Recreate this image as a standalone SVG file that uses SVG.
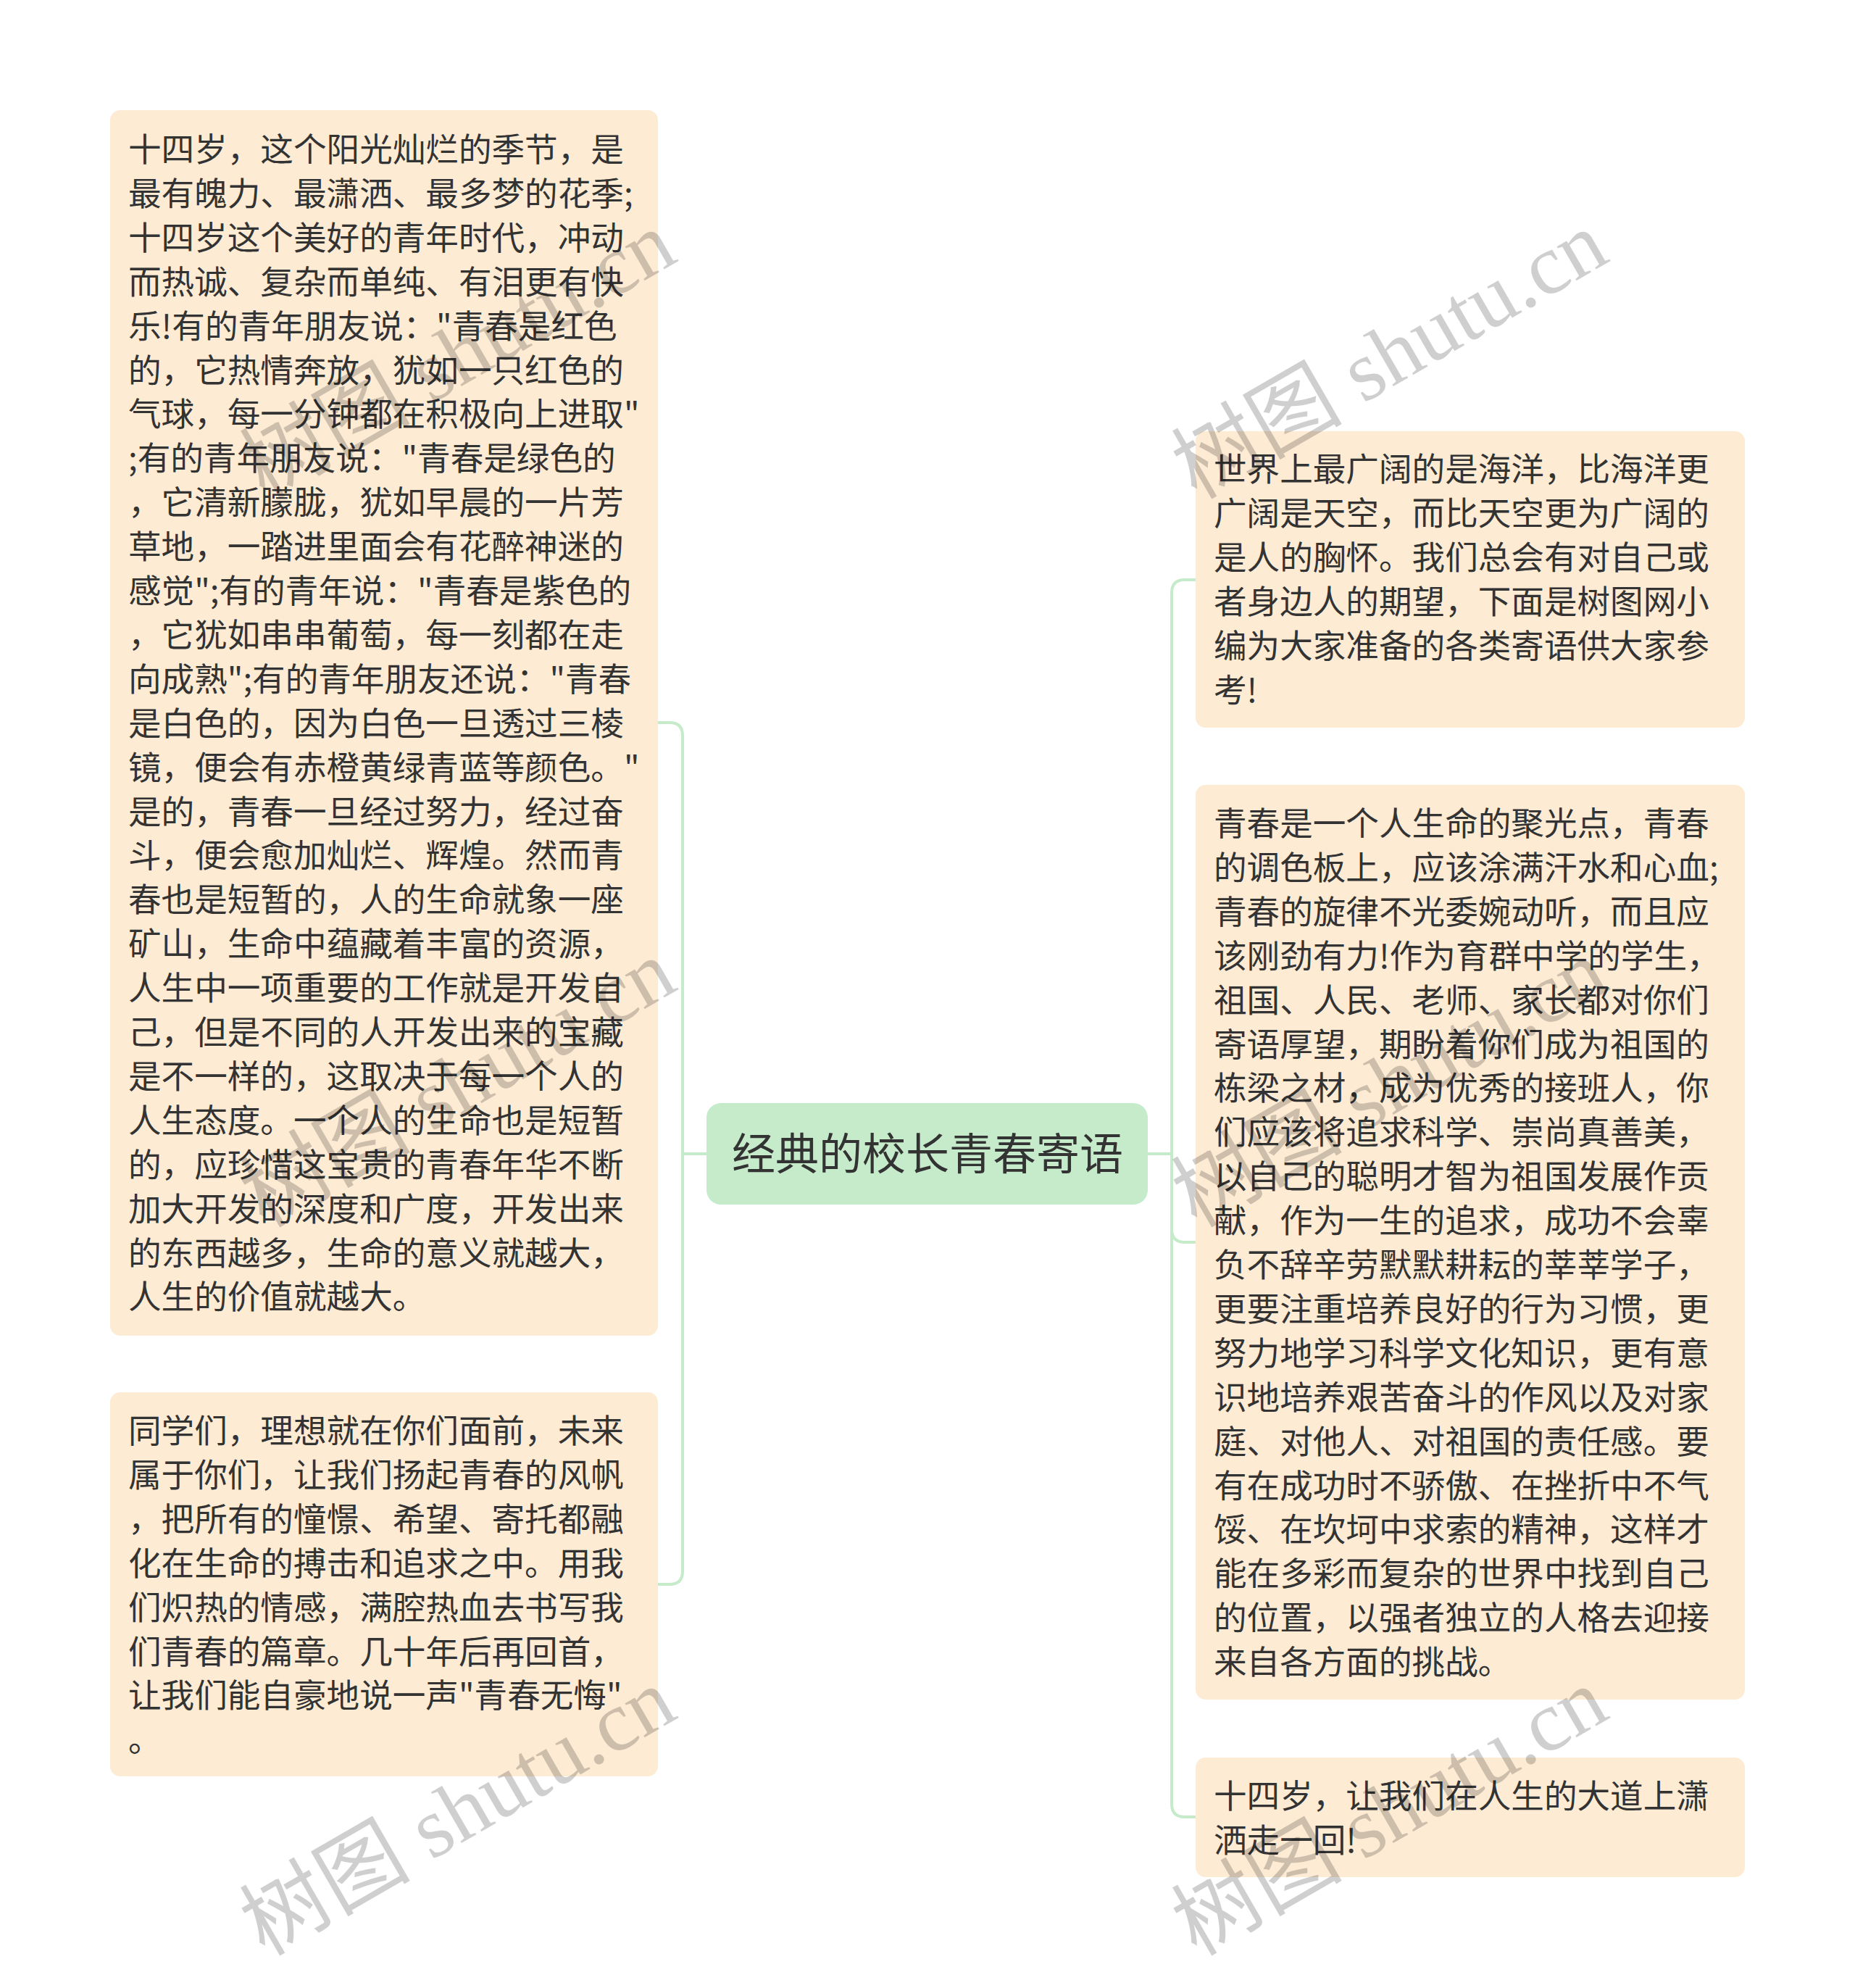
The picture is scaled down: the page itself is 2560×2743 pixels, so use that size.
<svg xmlns="http://www.w3.org/2000/svg" width="2560" height="2743" viewBox="0 0 2560 2743">
<style>
.node{fill:#fdebd4;}
.root{fill:#c6ebca;}
.t{font-family:"Noto Sans CJK SC","Noto Sans",sans-serif;font-size:45.6px;fill:#333333;}
.rt{font-family:"Noto Sans CJK SC","Noto Sans",sans-serif;font-size:60px;fill:#333333;}
.conn{fill:none;stroke:#c6ebca;stroke-width:4;}
.wm{font-family:"Liberation Serif","Noto Sans CJK SC",serif;font-size:118px;fill:#000000;fill-opacity:0.19;}
</style>
<rect width="2560" height="2743" fill="#ffffff"/>
<g id="connectors">
<path class="conn" d="M975 1592 H942 V1015 Q942 997 924 997 H908"/>
<path class="conn" d="M975 1592 H942 V2168 Q942 2186 924 2186 H908"/>
<path class="conn" d="M1584 1592 H1617 V818 Q1617 800 1635 800 H1650"/>
<path class="conn" d="M1584 1592 H1617 V1696 Q1617 1714 1635 1714 H1650"/>
<path class="conn" d="M1584 1592 H1617 V2489 Q1617 2507 1635 2507 H1650"/>
</g>
<g id="root">
<rect class="root" x="975" y="1522" width="609" height="140" rx="20"/>
<text class="rt" x="1280" y="1614" text-anchor="middle">经典的校长青春寄语</text>
</g>
<g id="left1">
<rect class="node" x="152" y="152" width="756" height="1691" rx="14"/>
<text class="t" x="177">
<tspan x="177" y="223">十四岁，这个阳光灿烂的季节，是</tspan>
<tspan x="177" dy="60.9">最有魄力、最潇洒、最多梦的花季;</tspan>
<tspan x="177" dy="60.9">十四岁这个美好的青年时代，冲动</tspan>
<tspan x="177" dy="60.9">而热诚、复杂而单纯、有泪更有快</tspan>
<tspan x="177" dy="60.9">乐!有的青年朋友说："青春是红色</tspan>
<tspan x="177" dy="60.9">的，它热情奔放，犹如一只红色的</tspan>
<tspan x="177" dy="60.9">气球，每一分钟都在积极向上进取"</tspan>
<tspan x="177" dy="60.9">;有的青年朋友说："青春是绿色的</tspan>
<tspan x="177" dy="60.9">，它清新朦胧，犹如早晨的一片芳</tspan>
<tspan x="177" dy="60.9">草地，一踏进里面会有花醉神迷的</tspan>
<tspan x="177" dy="60.9">感觉";有的青年说："青春是紫色的</tspan>
<tspan x="177" dy="60.9">，它犹如串串葡萄，每一刻都在走</tspan>
<tspan x="177" dy="60.9">向成熟";有的青年朋友还说："青春</tspan>
<tspan x="177" dy="60.9">是白色的，因为白色一旦透过三棱</tspan>
<tspan x="177" dy="60.9">镜，便会有赤橙黄绿青蓝等颜色。"</tspan>
<tspan x="177" dy="60.9">是的，青春一旦经过努力，经过奋</tspan>
<tspan x="177" dy="60.9">斗，便会愈加灿烂、辉煌。然而青</tspan>
<tspan x="177" dy="60.9">春也是短暂的，人的生命就象一座</tspan>
<tspan x="177" dy="60.9">矿山，生命中蕴藏着丰富的资源，</tspan>
<tspan x="177" dy="60.9">人生中一项重要的工作就是开发自</tspan>
<tspan x="177" dy="60.9">己，但是不同的人开发出来的宝藏</tspan>
<tspan x="177" dy="60.9">是不一样的，这取决于每一个人的</tspan>
<tspan x="177" dy="60.9">人生态度。一个人的生命也是短暂</tspan>
<tspan x="177" dy="60.9">的，应珍惜这宝贵的青春年华不断</tspan>
<tspan x="177" dy="60.9">加大开发的深度和广度，开发出来</tspan>
<tspan x="177" dy="60.9">的东西越多，生命的意义就越大，</tspan>
<tspan x="177" dy="60.9">人生的价值就越大。</tspan>
</text>
</g>
<g id="left2">
<rect class="node" x="152" y="1921" width="756" height="530" rx="14"/>
<text class="t">
<tspan x="177" y="1991">同学们，理想就在你们面前，未来</tspan>
<tspan x="177" dy="60.9">属于你们，让我们扬起青春的风帆</tspan>
<tspan x="177" dy="60.9">，把所有的憧憬、希望、寄托都融</tspan>
<tspan x="177" dy="60.9">化在生命的搏击和追求之中。用我</tspan>
<tspan x="177" dy="60.9">们炽热的情感，满腔热血去书写我</tspan>
<tspan x="177" dy="60.9">们青春的篇章。几十年后再回首，</tspan>
<tspan x="177" dy="60.9">让我们能自豪地说一声"青春无悔"</tspan>
<tspan x="177" dy="60.9">。</tspan>
</text>
</g>
<g id="right1">
<rect class="node" x="1650" y="595" width="758" height="409" rx="14"/>
<text class="t">
<tspan x="1675" y="664">世界上最广阔的是海洋，比海洋更</tspan>
<tspan x="1675" dy="60.9">广阔是天空，而比天空更为广阔的</tspan>
<tspan x="1675" dy="60.9">是人的胸怀。我们总会有对自己或</tspan>
<tspan x="1675" dy="60.9">者身边人的期望，下面是树图网小</tspan>
<tspan x="1675" dy="60.9">编为大家准备的各类寄语供大家参</tspan>
<tspan x="1675" dy="60.9">考!</tspan>
</text>
</g>
<g id="right2">
<rect class="node" x="1650" y="1083" width="758" height="1262" rx="14"/>
<text class="t">
<tspan x="1675" y="1153">青春是一个人生命的聚光点，青春</tspan>
<tspan x="1675" dy="60.9">的调色板上，应该涂满汗水和心血;</tspan>
<tspan x="1675" dy="60.9">青春的旋律不光委婉动听，而且应</tspan>
<tspan x="1675" dy="60.9">该刚劲有力!作为育群中学的学生，</tspan>
<tspan x="1675" dy="60.9">祖国、人民、老师、家长都对你们</tspan>
<tspan x="1675" dy="60.9">寄语厚望，期盼着你们成为祖国的</tspan>
<tspan x="1675" dy="60.9">栋梁之材，成为优秀的接班人，你</tspan>
<tspan x="1675" dy="60.9">们应该将追求科学、崇尚真善美，</tspan>
<tspan x="1675" dy="60.9">以自己的聪明才智为祖国发展作贡</tspan>
<tspan x="1675" dy="60.9">献，作为一生的追求，成功不会辜</tspan>
<tspan x="1675" dy="60.9">负不辞辛劳默默耕耘的莘莘学子，</tspan>
<tspan x="1675" dy="60.9">更要注重培养良好的行为习惯，更</tspan>
<tspan x="1675" dy="60.9">努力地学习科学文化知识，更有意</tspan>
<tspan x="1675" dy="60.9">识地培养艰苦奋斗的作风以及对家</tspan>
<tspan x="1675" dy="60.9">庭、对他人、对祖国的责任感。要</tspan>
<tspan x="1675" dy="60.9">有在成功时不骄傲、在挫折中不气</tspan>
<tspan x="1675" dy="60.9">馁、在坎坷中求索的精神，这样才</tspan>
<tspan x="1675" dy="60.9">能在多彩而复杂的世界中找到自己</tspan>
<tspan x="1675" dy="60.9">的位置，以强者独立的人格去迎接</tspan>
<tspan x="1675" dy="60.9">来自各方面的挑战。</tspan>
</text>
</g>
<g id="right3">
<rect class="node" x="1650" y="2425" width="758" height="165" rx="14"/>
<text class="t">
<tspan x="1675" y="2495">十四岁，让我们在人生的大道上潇</tspan>
<tspan x="1675" dy="60.9">洒走一回!</tspan>
</text>
</g>
<g id="watermarks">
<text class="wm" x="365" y="690" transform="rotate(-30 365 690)">树图 shutu.cn</text>
<text class="wm" x="365" y="1695" transform="rotate(-30 365 1695)">树图 shutu.cn</text>
<text class="wm" x="365" y="2700" transform="rotate(-30 365 2700)">树图 shutu.cn</text>
<text class="wm" x="1651" y="690" transform="rotate(-30 1651 690)">树图 shutu.cn</text>
<text class="wm" x="1651" y="1695" transform="rotate(-30 1651 1695)">树图 shutu.cn</text>
<text class="wm" x="1651" y="2700" transform="rotate(-30 1651 2700)">树图 shutu.cn</text>
</g>
</svg>
